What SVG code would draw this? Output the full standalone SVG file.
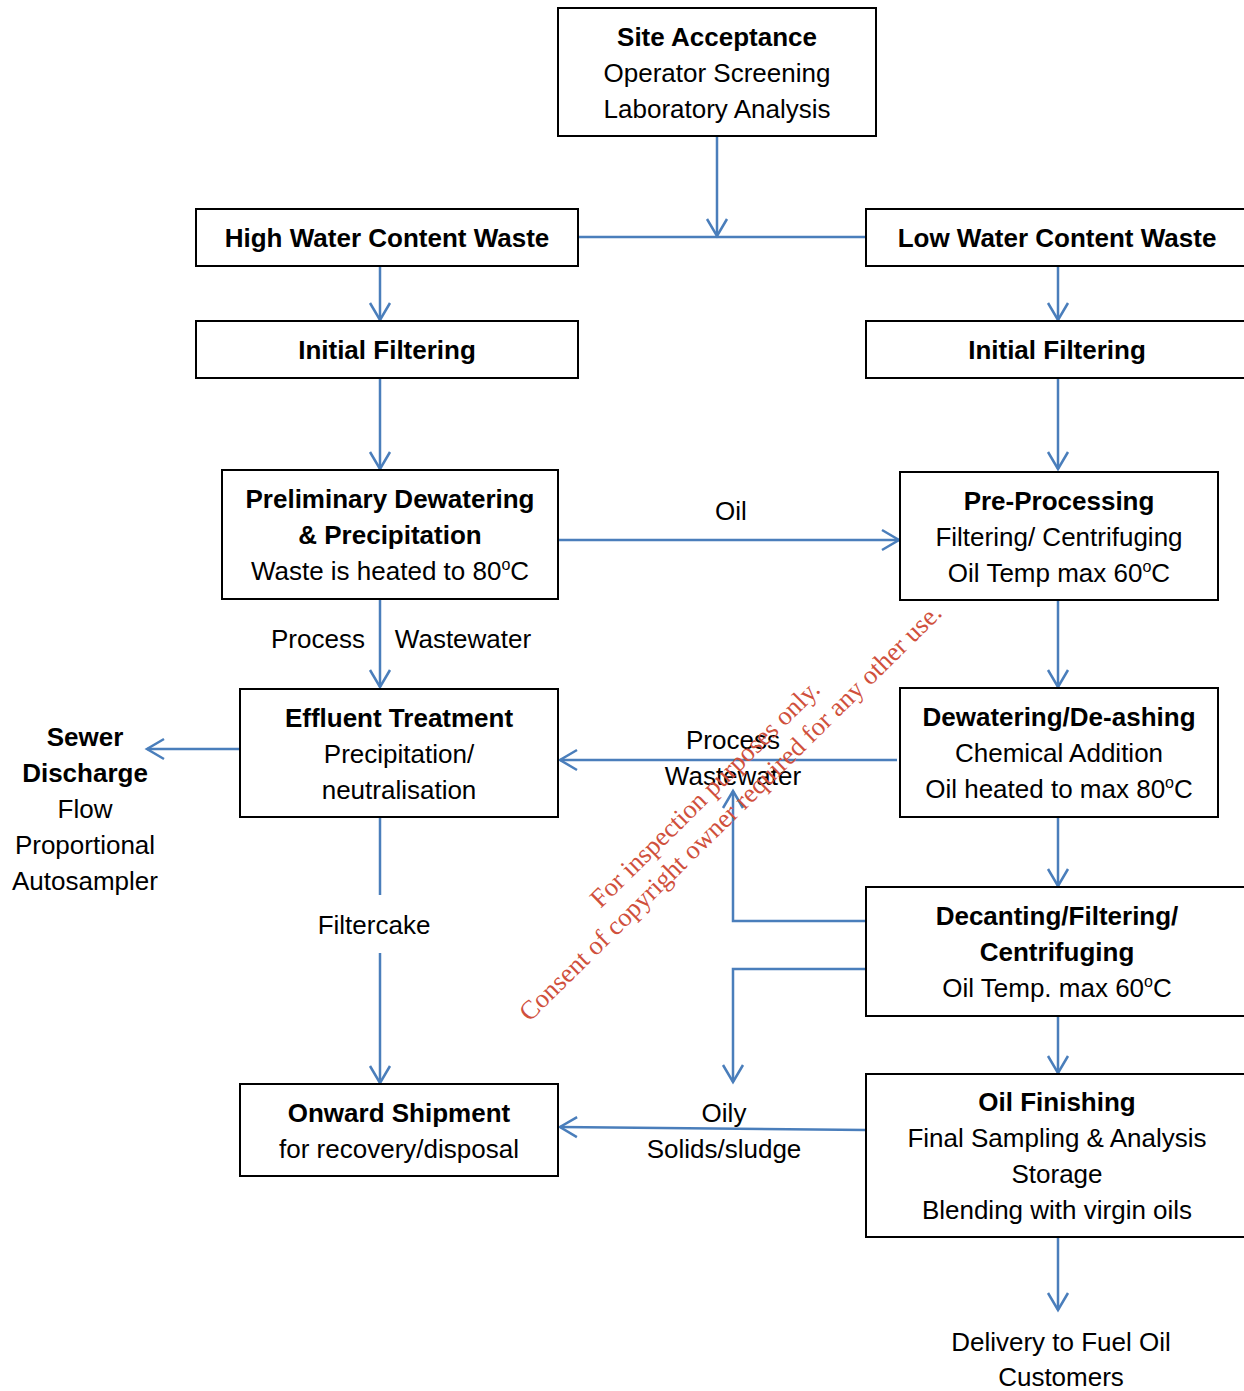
<svg xmlns="http://www.w3.org/2000/svg" width="1244" height="1391" viewBox="0 0 1244 1391">
<style>
text{font-family:"Liberation Sans",Arial,sans-serif;font-size:26px;fill:#000;text-anchor:middle}
.b{font-weight:bold}
.box{fill:#fff;stroke:#000;stroke-width:2}
.c{fill:none;stroke:#4a7ebb;stroke-width:2.5}
.sup{font-size:16px}
.wm{font-family:"Liberation Serif","Times New Roman",serif;font-size:26.4px;fill:#d0503c}
</style>
<defs>
<marker id="arr" markerUnits="userSpaceOnUse" markerWidth="22" markerHeight="24" viewBox="0 0 22 24" refX="19" refY="12" orient="auto">
<path d="M2,2 L19,12 L2,22" fill="none" stroke="#4a7ebb" stroke-width="2.5"/>
</marker>
</defs>
<rect width="1244" height="1391" fill="#fff"/>
<g id="connectors">
<path class="c" d="M717,136 V236" marker-end="url(#arr)"/>
<path class="c" d="M578,237 H866"/>
<path class="c" d="M380,266 V320" marker-end="url(#arr)"/>
<path class="c" d="M1058,266 V320" marker-end="url(#arr)"/>
<path class="c" d="M380,378 V469" marker-end="url(#arr)"/>
<path class="c" d="M1058,378 V469" marker-end="url(#arr)"/>
<path class="c" d="M558,540 H899" marker-end="url(#arr)"/>
<path class="c" d="M380,599 V687" marker-end="url(#arr)"/>
<path class="c" d="M1058,600 V687" marker-end="url(#arr)"/>
<path class="c" d="M240,749 H147" marker-end="url(#arr)"/>
<path class="c" d="M897,760 H560" marker-end="url(#arr)"/>
<path class="c" d="M1058,817 V886" marker-end="url(#arr)"/>
<path class="c" d="M866,921 H733 V791" marker-end="url(#arr)"/>
<path class="c" d="M866,969 H733 V1082" marker-end="url(#arr)"/>
<path class="c" d="M380,817 V895"/>
<path class="c" d="M380,953 V1083" marker-end="url(#arr)"/>
<path class="c" d="M1058,1016 V1073" marker-end="url(#arr)"/>
<path class="c" d="M866,1130 L560,1127" marker-end="url(#arr)"/>
<path class="c" d="M1058,1237 V1310" marker-end="url(#arr)"/>
</g>
<g id="site-acceptance">
<rect class="box" x="558" y="8" width="318" height="128"/>
<text class="b" x="717" y="46">Site Acceptance</text>
<text x="717" y="82">Operator Screening</text>
<text x="717" y="118">Laboratory Analysis</text>
</g>
<g id="high-water">
<rect class="box" x="196" y="209" width="382" height="57"/>
<text class="b" x="387" y="247">High Water Content Waste</text>
</g>
<g id="low-water">
<rect class="box" x="866" y="209" width="384" height="57"/>
<text class="b" x="1057" y="247">Low Water Content Waste</text>
</g>
<g id="initial-filtering-left">
<rect class="box" x="196" y="321" width="382" height="57"/>
<text class="b" x="387" y="359">Initial Filtering</text>
</g>
<g id="initial-filtering-right">
<rect class="box" x="866" y="321" width="384" height="57"/>
<text class="b" x="1057" y="359">Initial Filtering</text>
</g>
<g id="preliminary-dewatering">
<rect class="box" x="222" y="470" width="336" height="129"/>
<text class="b" x="390" y="508">Preliminary Dewatering</text>
<text class="b" x="390" y="544">&amp; Precipitation</text>
<text x="390" y="580">Waste is heated to 80<tspan class="sup" dy="-10">o</tspan><tspan dy="10">C</tspan></text>
</g>
<g id="pre-processing">
<rect class="box" x="900" y="472" width="318" height="128"/>
<text class="b" x="1059" y="510">Pre-Processing</text>
<text x="1059" y="546">Filtering/ Centrifuging</text>
<text x="1059" y="582">Oil Temp max 60<tspan class="sup" dy="-10">o</tspan><tspan dy="10">C</tspan></text>
</g>
<g id="effluent-treatment">
<rect class="box" x="240" y="689" width="318" height="128"/>
<text class="b" x="399" y="727">Effluent Treatment</text>
<text x="399" y="763">Precipitation/</text>
<text x="399" y="799">neutralisation</text>
</g>
<g id="dewatering-deashing">
<rect class="box" x="900" y="688" width="318" height="129"/>
<text class="b" x="1059" y="726">Dewatering/De-ashing</text>
<text x="1059" y="762">Chemical Addition</text>
<text x="1059" y="798">Oil heated to max 80<tspan class="sup" dy="-10">o</tspan><tspan dy="10">C</tspan></text>
</g>
<g id="decanting">
<rect class="box" x="866" y="887" width="384" height="129"/>
<text class="b" x="1057" y="925">Decanting/Filtering/</text>
<text class="b" x="1057" y="961">Centrifuging</text>
<text x="1057" y="997">Oil Temp. max 60<tspan class="sup" dy="-10">o</tspan><tspan dy="10">C</tspan></text>
</g>
<g id="onward-shipment">
<rect class="box" x="240" y="1084" width="318" height="92"/>
<text class="b" x="399" y="1122">Onward Shipment</text>
<text x="399" y="1158">for recovery/disposal</text>
</g>
<g id="oil-finishing">
<rect class="box" x="866" y="1074" width="384" height="163"/>
<text class="b" x="1057" y="1111">Oil Finishing</text>
<text x="1057" y="1147">Final Sampling &amp; Analysis</text>
<text x="1057" y="1183">Storage</text>
<text x="1057" y="1219">Blending with virgin oils</text>
</g>
<g id="sewer-discharge">
<text class="b" x="85" y="746">Sewer</text>
<text class="b" x="85" y="782">Discharge</text>
<text x="85" y="818">Flow</text>
<text x="85" y="854">Proportional</text>
<text x="85" y="890">Autosampler</text>
</g>
<g id="labels">
<text x="731" y="520">Oil</text>
<text x="318" y="648">Process</text>
<text x="463" y="648">Wastewater</text>
<text x="733" y="749">Process</text>
<text x="733" y="785">Wastewater</text>
<text x="374" y="934">Filtercake</text>
<text x="724" y="1122">Oily</text>
<text x="724" y="1158">Solids/sludge</text>
</g>
<g id="delivery">
<text x="1061" y="1351">Delivery to Fuel Oil</text>
<text x="1061" y="1386">Customers</text>
</g>
<g id="watermark" transform="rotate(-44.6 730 812)">
<text class="wm" x="725" y="790">For inspection purposes only.</text>
<text class="wm" x="730" y="821">Consent of copyright owner required for any other use.</text>
</g>
</svg>
